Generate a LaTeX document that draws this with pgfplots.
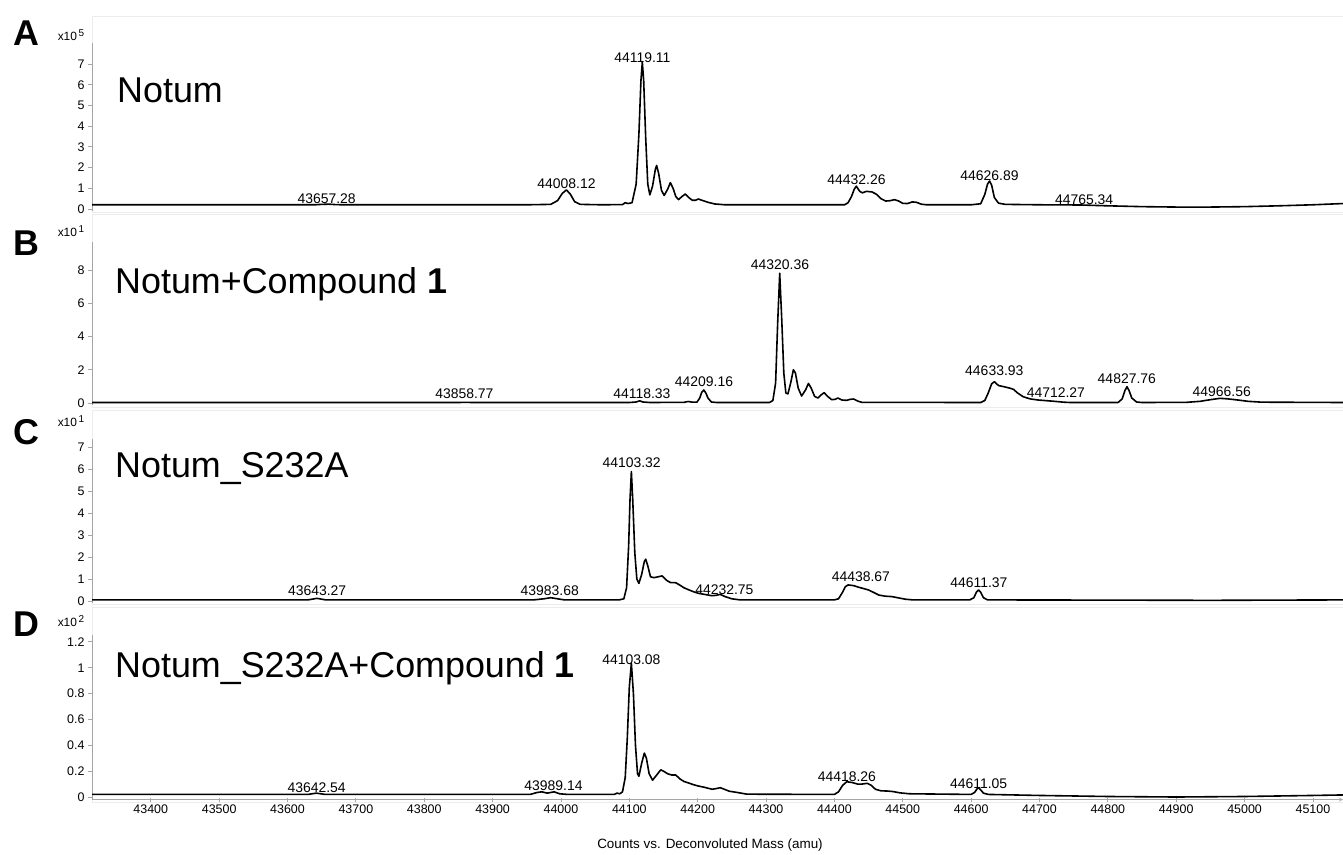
\documentclass[border=0pt]{standalone}
\usepackage{fontspec}
\setmainfont{Liberation Sans}
\usepackage{pgfplots}
\pgfplotsset{compat=1.18}

\pgfplotsset{
 panel/.style={
  scale only axis, width=1251bp, xmin=43314, xmax=45144,
  axis y line=left,
  axis line style={-, gray!70, line width=0.8bp},
  y tick style={gray!70, line width=0.8bp},
  tick align=outside, major tick length=4bp,
  yticklabel style={font=\fontsize{12.5}{14}\selectfont, /pgf/number format/assume math mode=true, text=black},
  clip=false,
  every axis plot post/.append style={black, line width=1.6bp, line join=round, mark=none},
 },
}
\tikzset{pk/.style={font=\fontsize{14}{16}\selectfont, inner sep=0pt}}

\begin{document}
\begin{tikzpicture}
% light panel frames
\draw[gray!15, line width=1bp] (92bp,642bp) rectangle (1343bp,838bp);
\draw[gray!15, line width=1bp] (92bp,447bp) rectangle (1343bp,640bp);
\draw[gray!15, line width=1bp] (92bp,250bp) rectangle (1343bp,444bp);
\draw[gray!15, line width=1bp] (92bp,52bp) rectangle (1343bp,247bp);

% ---------------- Panel A ----------------
\begin{axis}[panel, axis x line=none, at={(92bp,644bp)}, anchor=south west, height=167.6bp,
  ymin=-0.1, ymax=8, ytick={0,1,...,7}]
\addplot[black] coordinates {
(43314,0.20)(43640,0.20)(43650,0.22)(43660,0.23)(43670,0.21)(43680,0.20)
(43950,0.20)(43985,0.22)(43995,0.40)(44002,0.75)(44008,0.92)(44014,0.70)(44020,0.35)(44028,0.22)
(44060,0.20)(44090,0.21)(44094,0.30)(44098,0.26)(44104,0.30)(44110,1.2)(44114,3.6)(44117,6.2)
(44119,7.1)(44121,6.2)(44124,3.4)(44127,1.2)(44130,0.68)(44134,1.1)(44138,1.9)(44140,2.1)
(44143,1.7)(44147,0.9)(44151,0.65)(44156,0.95)(44160,1.27)(44164,1.0)(44168,0.6)(44172,0.45)
(44177,0.6)(44182,0.72)(44187,0.55)(44192,0.42)(44197,0.42)(44201,0.48)(44206,0.42)(44215,0.32)
(44225,0.24)(44240,0.20)(44415,0.20)(44420,0.30)(44425,0.60)(44429,0.95)(44432,1.1)(44437,0.85)
(44441,0.78)(44447,0.85)(44455,0.82)(44462,0.70)(44468,0.50)(44475,0.38)(44482,0.40)(44488,0.45)
(44494,0.38)(44500,0.27)(44507,0.26)(44514,0.34)(44520,0.32)(44527,0.23)(44535,0.20)(44600,0.20)
(44614,0.25)(44620,0.70)(44624,1.2)(44627,1.35)(44630,1.15)(44634,0.55)(44640,0.28)(44650,0.22)
(44700,0.20)(44760,0.19)(44800,0.15)(44850,0.11)(44900,0.09)(44950,0.09)(45000,0.11)(45050,0.15)
(45100,0.20)(45144,0.26)
};
\node[pk] at (axis cs:43657.28,0.48) {43657.28};
\node[pk] at (axis cs:44008.12,1.21) {44008.12};
\node[pk] at (axis cs:44119.11,7.29) {44119.11};
\node[pk] at (axis cs:44432.26,1.40) {44432.26};
\node[pk] at (axis cs:44626.89,1.59) {44626.89};
\node[pk] at (axis cs:44765.34,0.43) {44765.34};
\end{axis}

% ---------------- Panel B ----------------
\begin{axis}[panel, axis x line=none, at={(92bp,449.5bp)}, anchor=south west, height=163.8bp,
  ymin=-0.15, ymax=9.7, ytick={0,2,4,6,8}]
\addplot[black] coordinates {
(43314,0.03)(43850,0.03)(43860,0.04)(43870,0.03)(44100,0.03)(44110,0.06)(44115,0.13)(44120,0.06)
(44130,0.03)(44180,0.04)(44186,0.09)(44192,0.05)(44199,0.05)(44203,0.30)(44206,0.65)(44209,0.78)
(44212,0.60)(44215,0.30)(44220,0.06)(44228,0.03)(44305,0.03)(44310,0.15)(44314,1.2)(44317,4.8)
(44320,7.8)(44323,5.0)(44326,1.8)(44329,0.6)(44332,0.55)(44336,1.2)(44340,2.0)(44343,1.8)
(44347,0.9)(44352,0.42)(44358,0.8)(44362,1.18)(44366,0.9)(44371,0.4)(44376,0.3)(44381,0.5)
(44385,0.62)(44390,0.4)(44396,0.2)(44401,0.22)(44405,0.3)(44411,0.18)(44418,0.16)(44423,0.22)
(44428,0.24)(44434,0.12)(44440,0.04)(44614,0.03)(44620,0.15)(44625,0.6)(44630,1.15)(44634,1.28)
(44640,1.05)(44648,0.98)(44656,0.9)(44662,0.82)(44668,0.6)(44676,0.38)(44686,0.25)(44698,0.18)
(44710,0.14)(44722,0.1)(44735,0.05)(44745,0.03)(44815,0.03)(44821,0.25)(44825,0.75)(44828,0.98)
(44831,0.75)(44835,0.3)(44842,0.06)(44850,0.03)(44915,0.04)(44935,0.1)(44950,0.2)(44964,0.28)
(44975,0.25)(44990,0.18)(45005,0.1)(45025,0.05)(45144,0.03)
};
\node[pk] at (axis cs:43858.77,0.54) {43858.77};
\node[pk] at (axis cs:44118.33,0.54) {44118.33};
\node[pk] at (axis cs:44209.16,1.26) {44209.16};
\node[pk] at (axis cs:44320.36,8.30) {44320.36};
\node[pk] at (axis cs:44633.93,1.92) {44633.93};
\node[pk] at (axis cs:44724,0.60) {44712.27};
\node[pk] at (axis cs:44827.76,1.44) {44827.76};
\node[pk] at (axis cs:44966.56,0.66) {44966.56};
\end{axis}

% ---------------- Panel C ----------------
\begin{axis}[panel, axis x line=none, at={(92bp,251.8bp)}, anchor=south west, height=163.9bp,
  ymin=-0.1, ymax=7.35, ytick={0,1,...,7}]
\addplot[black] coordinates {
(43314,0.05)(43630,0.05)(43643,0.12)(43656,0.05)(43960,0.05)(43975,0.1)(43985,0.15)(43995,0.1)
(44005,0.05)(44085,0.05)(44092,0.1)(44096,0.6)(44099,2.5)(44101,4.6)(44103,5.88)(44105,4.6)
(44108,2.2)(44111,1.0)(44114,0.8)(44118,1.2)(44122,1.8)(44124,1.9)(44127,1.6)(44131,1.1)
(44136,1.06)(44142,1.1)(44148,1.14)(44154,0.95)(44160,0.84)(44168,0.83)(44174,0.72)(44180,0.6)
(44186,0.52)(44194,0.42)(44201,0.35)(44210,0.3)(44221,0.24)(44227,0.26)(44233,0.3)(44240,0.2)
(44250,0.1)(44262,0.05)(44400,0.05)(44406,0.1)(44412,0.4)(44416,0.65)(44420,0.73)(44428,0.7)
(44436,0.62)(44441,0.58)(44450,0.5)(44458,0.38)(44465,0.27)(44474,0.22)(44484,0.2)(44494,0.14)
(44504,0.08)(44515,0.05)(44598,0.05)(44604,0.15)(44608,0.42)(44611,0.5)(44614,0.4)(44618,0.15)
(44624,0.05)(44800,0.04)(44950,0.03)(45144,0.05)
};
\node[pk] at (axis cs:43643.27,0.45) {43643.27};
\node[pk] at (axis cs:43983.68,0.45) {43983.68};
\node[pk] at (axis cs:44103.32,6.27) {44103.32};
\node[pk] at (axis cs:44239,0.50) {44232.75};
\node[pk] at (axis cs:44438.67,1.09) {44438.67};
\node[pk] at (axis cs:44611.37,0.82) {44611.37};
\end{axis}

% ---------------- Panel D ----------------
\begin{axis}[panel, at={(92bp,55.4bp)}, anchor=south west, height=164.2bp,
  ymin=-0.02, ymax=1.25, ytick={0,0.2,0.4,0.6,0.8,1,1.2},
  axis x line=bottom,
  x tick style={gray!70, line width=0.8bp},
  xtick={43400,43500,...,45100},
  scaled x ticks=false,
  xticklabel style={font=\fontsize{12.5}{14}\selectfont, /pgf/number format/assume math mode=true, /pgf/number format/fixed, /pgf/number format/precision=0, /pgf/number format/1000 sep={}, text=black},
  yticklabel style={/pgf/number format/fixed}]
\addplot[black] coordinates {
(43314,0.02)(43630,0.02)(43642,0.03)(43655,0.02)(43955,0.02)(43965,0.035)(43972,0.04)(43980,0.03)
(43990,0.04)(43998,0.025)(44010,0.02)(44078,0.02)(44082,0.03)(44086,0.025)(44090,0.04)(44094,0.15)
(44097,0.45)(44100,0.85)(44103,1.035)(44106,0.8)(44109,0.4)(44112,0.18)(44114,0.16)(44118,0.26)
(44122,0.34)(44125,0.3)(44129,0.18)(44134,0.13)(44140,0.17)(44146,0.21)(44150,0.2)(44156,0.18)
(44162,0.17)(44168,0.17)(44174,0.14)(44180,0.12)(44186,0.11)(44194,0.095)(44201,0.085)(44210,0.075)
(44221,0.06)(44227,0.065)(44233,0.072)(44239,0.06)(44246,0.045)(44258,0.035)(44272,0.022)(44400,0.02)
(44406,0.04)(44412,0.09)(44418,0.118)(44426,0.112)(44434,0.1)(44440,0.1)(44448,0.106)(44454,0.09)
(44460,0.06)(44468,0.048)(44478,0.046)(44486,0.042)(44496,0.032)(44510,0.025)(44600,0.02)(44605,0.035)
(44609,0.065)(44611,0.072)(44614,0.055)(44618,0.03)(44625,0.02)(44700,0.012)(44800,0.004)(44900,0.0)
(45000,0.004)(45100,0.012)(45144,0.016)
};
\node[pk] at (axis cs:43642.54,0.07) {43642.54};
\node[pk] at (axis cs:43989.14,0.085) {43989.14};
\node[pk] at (axis cs:44103.08,1.06) {44103.08};
\node[pk] at (axis cs:44418.26,0.155) {44418.26};
\node[pk] at (axis cs:44611.05,0.10) {44611.05};
\end{axis}

% panel letters
\node[font=\bfseries\fontsize{36}{38}\selectfont] at (26bp,822bp) {A};
\node[font=\bfseries\fontsize{36}{38}\selectfont] at (26bp,612bp) {B};
\node[font=\bfseries\fontsize{36}{38}\selectfont] at (26bp,423bp) {C};
\node[font=\bfseries\fontsize{36}{38}\selectfont] at (26bp,231bp) {D};
% scale factors
\node[font=\fontsize{12}{14}\selectfont] at (71bp,820bp) {x10\raisebox{4bp}{\fontsize{10}{10}\selectfont\,5}};
\node[font=\fontsize{12}{14}\selectfont] at (71bp,624bp) {x10\raisebox{4bp}{\fontsize{10}{10}\selectfont\,1}};
\node[font=\fontsize{12}{14}\selectfont] at (71bp,434bp) {x10\raisebox{4bp}{\fontsize{10}{10}\selectfont\,1}};
\node[font=\fontsize{12}{14}\selectfont] at (71bp,234bp) {x10\raisebox{4bp}{\fontsize{10}{10}\selectfont\,2}};
% sample names
\node[anchor=west, font=\fontsize{36}{40}\selectfont, inner sep=0pt] at (117bp,765bp) {Notum};
\node[anchor=west, font=\fontsize{36}{40}\selectfont, inner sep=0pt] at (115bp,571bp) {Notum+Compound \textbf{1}};
\node[anchor=west, font=\fontsize{36}{40}\selectfont, inner sep=0pt] at (115bp,386bp) {Notum\_S232A};
\node[anchor=west, font=\fontsize{36}{40}\selectfont, inner sep=0pt] at (115bp,187bp) {Notum\_S232A+Compound \textbf{1}};
% x label
\node[font=\fontsize{13.5}{15}\selectfont] at (710bp,10bp) {Counts vs. Deconvoluted Mass (amu)};

\pgfresetboundingbox
\path (0,0) rectangle (1343bp,855bp);
\end{tikzpicture}
\end{document}
